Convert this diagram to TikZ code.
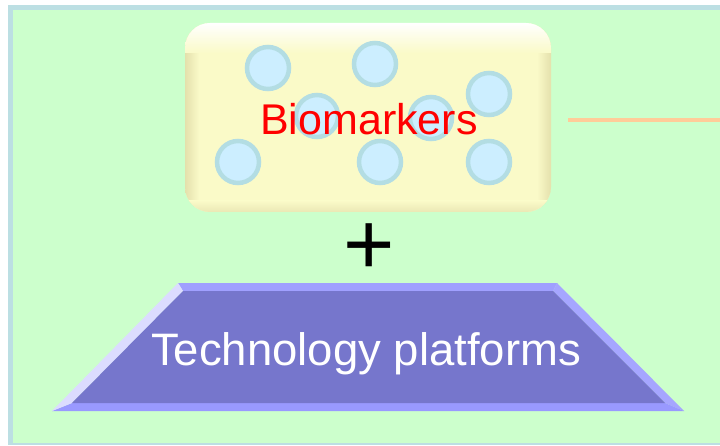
\documentclass[tikz,border=0pt]{standalone}
\usepackage{fontspec}
\setmainfont{Liberation Sans}
\definecolor{frameblue}{HTML}{BCDFE3}
\definecolor{bggreen}{HTML}{CCFFCC}
\definecolor{boxY}{HTML}{FAFAC8}
\definecolor{boxEdge}{HTML}{E4E0AC}
\definecolor{cellfill}{HTML}{CCEEFF}
\definecolor{cellring}{HTML}{B3DDE3}
\definecolor{linkorange}{HTML}{FFCC99}
\definecolor{tpInner}{HTML}{7676CC}
\definecolor{tpTop}{HTML}{A0A0FF}
\definecolor{tpLeft}{HTML}{DCDCFF}
\definecolor{tpRight}{HTML}{A6A6FF}
\definecolor{tpBottom}{HTML}{9999FF}
\begin{document}
\begin{tikzpicture}[x=1pt,y=1pt,
  cell/.style={circle,draw=cellring,fill=cellfill,line width=4.5pt,minimum size=42pt,inner sep=0pt},
  biglabel/.style={inner sep=0pt,anchor=base,font=\fontsize{43}{43}\selectfont}]
\useasboundingbox (0,0) rectangle (720,445);
% background
\fill[white] (0,0) rectangle (720,445);
\fill[frameblue] (8,0) rectangle (720,440);
\fill[bggreen] (13,2) rectangle (720,435);
% biomarker box
\begin{scope}
\clip[rounded corners=25pt] (185,233) rectangle (551,422);
\fill[boxY] (185,233) rectangle (551,422);
\shade[left color=boxEdge, right color=boxY] (185,233) rectangle (199,422);
\shade[left color=boxY, right color=boxEdge] (537,233) rectangle (551,422);
\shade[top color=white, bottom color=boxY] (185,392) rectangle (551,422);
\shade[top color=boxY, bottom color=boxEdge!70!boxY] (185,233) rectangle (551,244);
\end{scope}
\node[cell] (c1) at (268,377) {};
\node[cell] (c2) at (375,381) {};
\node[cell] (c3) at (317,329) {};
\node[cell] (c4) at (431,327) {};
\node[cell] (c5) at (489,351) {};
\node[cell] (c6) at (238,283) {};
\node[cell] (c7) at (380,283) {};
\node[cell] (c8) at (489,283) {};
\node[biglabel,text=red] (bio) at (369,310) {Biomarkers};
% orange connector
\coordinate (ls) at (568,325);
\coordinate (le) at (720,325);
\draw[linkorange,line width=4pt] (ls) -- (le);
% plus
\node[inner sep=0pt,font=\fontsize{88}{88}\selectfont] (plus) at (369,196) {+};
% technology platforms trapezoid
\coordinate (oTL) at (178,162);
\coordinate (oTR) at (557,162);
\coordinate (oBR) at (684,34);
\coordinate (oBL) at (52,34);
\coordinate (iTL) at (183,154);
\coordinate (iTR) at (553,154);
\coordinate (iBR) at (665,42);
\coordinate (iBL) at (72,42);
\fill[tpTop] (oTL) -- (oTR) -- (iTR) -- (iTL) -- cycle;
\fill[tpRight] (oTR) -- (oBR) -- (iBR) -- (iTR) -- cycle;
\fill[tpBottom] (oBR) -- (oBL) -- (iBL) -- (iBR) -- cycle;
\fill[tpLeft] (oBL) -- (oTL) -- (iTL) -- (iBL) -- cycle;
\fill[tpInner] (iTL) -- (iTR) -- (iBR) -- (iBL) -- cycle;
\node[biglabel,text=white,font=\fontsize{45.5}{45.5}\selectfont] (tech) at (366,80) {Technology platforms};
\end{tikzpicture}
\end{document}
